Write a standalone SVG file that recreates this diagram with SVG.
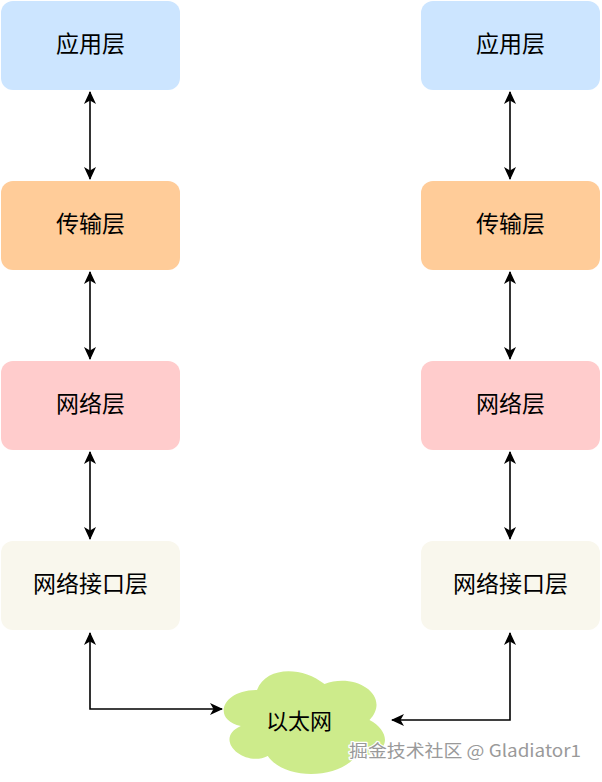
<svg xmlns="http://www.w3.org/2000/svg" width="602" height="782" viewBox="0 0 602 782">
<defs>
<style>
.box{stroke:none}
.app{fill:#cce5ff}
.tra{fill:#ffcc99}
.net{fill:#ffcccc}
.ifc{fill:#f9f7ed}
.lbl{font-family:"Noto Sans CJK SC","Noto Sans",sans-serif;font-size:23px;fill:#000;text-anchor:middle;dominant-baseline:central}
.edge{fill:none;stroke:#000;stroke-width:1.6;marker-start:url(#arr);marker-end:url(#arr)}
.wm{font-family:"Noto Sans CJK SC","Noto Sans",sans-serif;font-size:17px;fill:#9a9a9a;stroke:#fff;stroke-width:2.5;paint-order:stroke;stroke-linejoin:round}
</style>
<marker id="arr" viewBox="0 0 13 13" refX="12" refY="6.5" markerWidth="13" markerHeight="13" markerUnits="userSpaceOnUse" orient="auto-start-reverse">
<path d="M0,0.5 L13,6.5 L0,12.5 L3.5,6.5 Z" fill="#000"/>
</marker>
</defs>
<rect width="602" height="782" fill="#fff"/>
<g id="connectors">
<path class="edge" d="M90,92 V179"/>
<path class="edge" d="M90,272 V359"/>
<path class="edge" d="M90,452 V539"/>
<path class="edge" d="M510,92 V179"/>
<path class="edge" d="M510,272 V359"/>
<path class="edge" d="M510,452 V539"/>
<path class="edge" d="M90,633 V709 H222"/>
<path class="edge" d="M510,633 V720 H392"/>
</g>
<g id="left-app"><rect class="box app" x="1" y="1" width="179" height="89" rx="12"/><text class="lbl" x="90.5" y="42">应用层</text></g>
<g id="left-transport"><rect class="box tra" x="1" y="181" width="179" height="89" rx="12"/><text class="lbl" x="90.5" y="222">传输层</text></g>
<g id="left-network"><rect class="box net" x="1" y="361" width="179" height="89" rx="12"/><text class="lbl" x="90.5" y="402">网络层</text></g>
<g id="left-interface"><rect class="box ifc" x="1" y="541" width="179" height="89" rx="12"/><text class="lbl" x="90.5" y="582">网络接口层</text></g>
<g id="right-app"><rect class="box app" x="421" y="1" width="179" height="89" rx="12"/><text class="lbl" x="510.5" y="42">应用层</text></g>
<g id="right-transport"><rect class="box tra" x="421" y="181" width="179" height="89" rx="12"/><text class="lbl" x="510.5" y="222">传输层</text></g>
<g id="right-network"><rect class="box net" x="421" y="361" width="179" height="89" rx="12"/><text class="lbl" x="510.5" y="402">网络层</text></g>
<g id="right-interface"><rect class="box ifc" x="421" y="541" width="179" height="89" rx="12"/><text class="lbl" x="510.5" y="582">网络接口层</text></g>
<g id="ethernet">
<path fill="#cdeb8b" d="M257,690 C221,690 212,720 240.8,726 C212,739.2 244.4,768 267.8,756 C284,780 338,780 356,756 C392,756 392,732 369.5,720 C392,696 356,672 324.5,684 C302,666 266,666 257,690 Z"/>
<text class="lbl" x="299" y="719" style="font-size:22px">以太网</text>
</g>
<text class="wm" x="349" y="757" textLength="232" lengthAdjust="spacingAndGlyphs">掘金技术社区 @ Gladiator1</text>
</svg>
